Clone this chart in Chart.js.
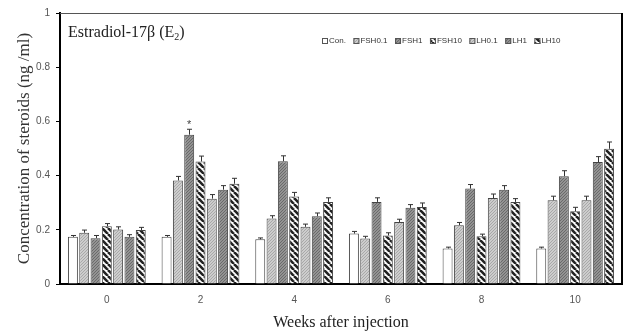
<!DOCTYPE html>
<html>
<head>
<meta charset="utf-8">
<script src="https://cdn.jsdelivr.net/npm/chart.js@4"></script>
<style>
  body { margin: 0; background: #fff; }
  .wrap { width: 626px; height: 334px; position: relative; }
</style>
</head>
<body>
<div class="wrap"><canvas id="myChart"></canvas></div>
<script>
let weeks = ['0', '2', '4', '6', '8', '10'];
let yTicks = ['0', '0.2', '0.4', '0.6', '0.8', '1'];
let groups = ['Con.', 'FSH0.1', 'FSH1', 'FSH10', 'LH0.1', 'LH1', 'LH10'];

let con   = [0.174, 0.174, 0.165, 0.186, 0.131, 0.131];
let fsh01 = [0.189, 0.382, 0.242, 0.168, 0.217, 0.309];
let fsh1  = [0.169, 0.551, 0.453, 0.303, 0.352, 0.398];
let fsh10 = [0.213, 0.452, 0.323, 0.179, 0.176, 0.268];
let lh01  = [0.201, 0.315, 0.211, 0.229, 0.317, 0.309];
let lh1   = [0.174, 0.348, 0.250, 0.281, 0.348, 0.450];
let lh10  = [0.199, 0.370, 0.303, 0.284, 0.303, 0.499];

// standard errors
let conErr   = [0.005, 0.005, 0.005, 0.008, 0.005, 0.005];
let fsh01Err = [0.010, 0.015, 0.010, 0.008, 0.010, 0.015];
let fsh1Err  = [0.010, 0.020, 0.020, 0.015, 0.015, 0.020];
let fsh10Err = [0.010, 0.020, 0.015, 0.010, 0.008, 0.015];
let lh01Err  = [0.010, 0.015, 0.010, 0.010, 0.015, 0.015];
let lh1Err   = [0.008, 0.015, 0.012, 0.012, 0.015, 0.020];
let lh10Err  = [0.010, 0.020, 0.015, 0.015, 0.012, 0.025];

// significance marks: [week index, dataset index]
let stars = [[1, 2]];

function dots(bg, dot) {
  let c = document.createElement('canvas');
  c.width = 3; c.height = 3;
  let g = c.getContext('2d');
  g.fillStyle = bg; g.fillRect(0, 0, 3, 3);
  g.fillStyle = dot;
  g.fillRect(0, 0, 1, 1); g.fillRect(2, 1, 1, 1); g.fillRect(1, 2, 1, 1);
  return g.createPattern(c, 'repeat');
}

function stripes() {
  let s = 6;
  let c = document.createElement('canvas');
  c.width = s; c.height = s;
  let g = c.getContext('2d');
  g.fillStyle = '#fff'; g.fillRect(0, 0, s, s);
  g.strokeStyle = '#222'; g.lineWidth = 2.6;
  for (let o = -s; o <= s; o += s) {
    g.beginPath(); g.moveTo(o, 0); g.lineTo(o + s, s); g.stroke();
  }
  return g.createPattern(c, 'repeat');
}

let light = dots('#cdcdcd', '#a8a8a8');
let dark = dots('#939393', '#6a6a6a');
let hatch = stripes();

let fills = ['#ffffff', light, dark, hatch, light, dark, hatch];
let values = [con, fsh01, fsh1, fsh10, lh01, lh1, lh10];
let errors = [conErr, fsh01Err, fsh1Err, fsh10Err, lh01Err, lh1Err, lh10Err];

let errorBars = {
  id: 'errorBars',
  afterDatasetsDraw(chart) {
    let ctx = chart.ctx, y = chart.scales.y;
    ctx.save();
    ctx.strokeStyle = '#333'; ctx.lineWidth = 1;
    chart.data.datasets.forEach((ds, i) => {
      chart.getDatasetMeta(i).data.forEach((bar, j) => {
        let top = y.getPixelForValue(ds.data[j] + errors[i][j]);
        let x = Math.round(bar.x) + 0.5;
        ctx.beginPath();
        ctx.moveTo(x, bar.y); ctx.lineTo(x, top);
        ctx.moveTo(x - 2.5, top); ctx.lineTo(x + 2.5, top);
        ctx.stroke();
      });
    });
    ctx.fillStyle = '#444';
    ctx.font = '11px "Liberation Sans"';
    ctx.textAlign = 'center';
    stars.forEach(([j, i]) => {
      let bar = chart.getDatasetMeta(i).data[j];
      let top = y.getPixelForValue(values[i][j] + errors[i][j]);
      ctx.fillText('*', bar.x, top - 1);
    });
    ctx.restore();
  }
};

let frame = {
  id: 'frame',
  afterDraw(chart) {
    let ctx = chart.ctx, a = chart.chartArea;
    ctx.save();
    ctx.strokeStyle = '#555'; ctx.lineWidth = 1;
    ctx.beginPath(); ctx.moveTo(a.left, a.top + 0.5); ctx.lineTo(a.right, a.top + 0.5); ctx.stroke();
    ctx.strokeStyle = '#000'; ctx.lineWidth = 2;
    ctx.beginPath(); ctx.moveTo(a.right, a.top); ctx.lineTo(a.right, a.bottom); ctx.stroke();

    // panel title
    ctx.fillStyle = '#222';
    ctx.font = '16px "Liberation Serif"';
    ctx.textBaseline = 'alphabetic';
    let t = 'Estradiol-17\u03B2 (E';
    ctx.fillText(t, 68, 37);
    let w = ctx.measureText(t).width;
    ctx.font = '10px "Liberation Serif"';
    ctx.fillText('2', 68 + w, 40);
    let w2 = ctx.measureText('2').width;
    ctx.font = '16px "Liberation Serif"';
    ctx.fillText(')', 68 + w + w2, 37);

    // legend
    ctx.font = '8px "Liberation Sans"';
    ctx.textBaseline = 'middle';
    let x = 322, yy = 41;
    chart.data.datasets.forEach(ds => {
      ctx.fillStyle = ds.backgroundColor;
      ctx.fillRect(x, yy - 3, 6, 6);
      ctx.strokeStyle = '#555'; ctx.lineWidth = 1;
      ctx.strokeRect(x + 0.5, yy - 2.5, 5, 5);
      ctx.fillStyle = '#333';
      ctx.fillText(ds.label, x + 7, yy);
      x += 7 + ctx.measureText(ds.label).width + 7.5;
    });
    ctx.restore();
  }
};

let ctx = document.getElementById('myChart').getContext('2d');

let chart = new Chart(ctx, {
  type: 'bar',
  data: {
    labels: weeks,
    datasets: groups.map((g, i) => ({
      label: g,
      data: values[i],
      backgroundColor: fills[i],
      borderColor: '#444',
      borderWidth: 1,
      categoryPercentage: 0.845,
      barPercentage: 0.88
    }))
  },
  options: {
    responsive: true,
    maintainAspectRatio: false,
    animation: false,
    layout: { padding: { top: 13, right: 4, left: 0, bottom: 0 } },
    plugins: { legend: { display: false }, tooltip: { enabled: false } },
    scales: {
      x: {
        grid: { display: false, drawTicks: false },
        border: { color: '#000', width: 2 },
        ticks: { font: { family: 'Liberation Sans', size: 10 }, color: '#555', padding: 10 },
        title: {
          display: true, text: 'Weeks after injection',
          font: { family: 'Liberation Serif', size: 16 }, color: '#222',
          padding: { top: 0, bottom: 2 }
        },
        afterFit: s => { s.height = 50; }
      },
      y: {
        min: 0, max: 1,
        grid: { drawOnChartArea: false, tickLength: 4, color: '#000' },
        border: { color: '#000', width: 2 },
        ticks: {
          stepSize: 0.2,
          font: { family: 'Liberation Sans', size: 10 }, color: '#555', padding: 6,
          callback: (v, i) => yTicks[i]
        },
        title: {
          display: true, text: 'Concentration of steroids (ng /ml)',
          font: { family: 'Liberation Serif', size: 17 }, color: '#333',
          padding: { top: 14, bottom: 0 }
        },
        afterFit: s => { s.width = 60; }
      }
    }
  },
  plugins: [errorBars, frame]
});
</script>
</body>
</html>
